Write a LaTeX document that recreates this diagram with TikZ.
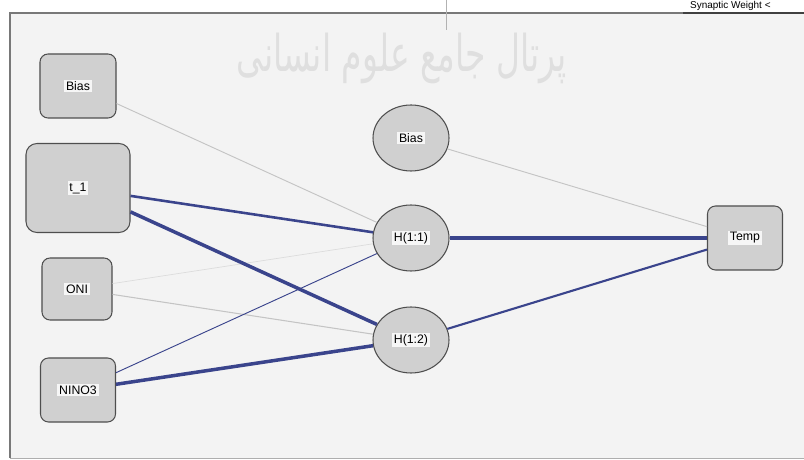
\documentclass[tikz,border=0pt]{standalone}
\usepackage{fontspec}
\setmainfont{Liberation Sans}
\newfontfamily\arabicfont[Script=Arabic]{DejaVu Sans}
\TeXXeTstate=1
\usetikzlibrary{shapes.geometric}

\definecolor{nodefill}{RGB}{208,208,208}
\definecolor{nodeline}{RGB}{78,78,78}
\definecolor{lblfill}{RGB}{246,246,246}
\definecolor{wblue}{RGB}{58,68,140}
\definecolor{wgray}{RGB}{196,196,196}
\definecolor{panel}{RGB}{243,243,243}
\definecolor{framegray}{RGB}{120,120,120}

\tikzset{
  inbox/.style={draw=nodeline,fill=nodefill,rounded corners=0.24cm,line width=0.9pt},
  hidnode/.style={ellipse,draw=nodeline,fill=nodefill,minimum width=2.28cm,minimum height=1.98cm,line width=0.9pt},
  txt/.style={fill=lblfill,inner sep=1.5pt,font=\fontsize{10.5}{11}\selectfont},
  wpos/.style={draw=wblue,line width=#1},
  wneg/.style={draw=wgray,line width=#1}
}

\begin{document}
\begin{tikzpicture}[x=0.03cm,y=-0.03cm]
\useasboundingbox (0,0) rectangle (804,460);
\clip (0,0) rectangle (804,460);

% panel and frame
\fill[panel] (10,13) rectangle (810,458);
\draw[framegray,line width=1.5pt] (10,458) -- (10,13) -- (810,13);
\draw[framegray!60,line width=0.6pt] (10,458) -- (810,458);
\draw[black!75,line width=1.5pt] (683,13) -- (810,13);
\draw[gray!60,line width=0.4pt] (446,0) -- (446,30);
\node[anchor=base west,inner sep=0pt,font=\fontsize{8.5}{9}\selectfont] (legend) at (690,9) {Synaptic Weight <};

\node[text=gray!25,xscale=0.88,yscale=1.35,font=\arabicfont\fontsize{32}{32}\selectfont] (mark) at (402,58) {\beginR پرتال جامع علوم انسانی\endR};

% input layer
\node[inbox,minimum width=2.28cm,minimum height=1.92cm,label={[txt]center:Bias}] (bias1) at (78,86) {};
\node[inbox,rounded corners=0.33cm,minimum width=3.12cm,minimum height=2.67cm,label={[txt]center:t\_1}] (t1) at (78,188) {};
\node[inbox,minimum width=2.1cm,minimum height=1.86cm,label={[txt]center:ONI}] (oni) at (77,289) {};
\node[inbox,minimum width=2.25cm,minimum height=1.92cm,label={[txt]center:NINO3}] (nino3) at (78,390) {};

% hidden layer
\node[hidnode,label={[txt]center:Bias}] (bias2) at (411,138) {};
\node[hidnode,label={[txt]center:H(1:1)}] (h11) at (411,238) {};
\node[hidnode,label={[txt]center:H(1:2)}] (h12) at (411,340) {};

% output
\node[inbox,minimum width=2.25cm,minimum height=1.92cm,label={[txt]center:Temp}] (temp) at (745,238) {};

% synaptic weights
\draw[wneg=0.8pt] (bias1) -- (h11);
\draw[wneg=0.6pt,draw=wgray!60] (oni) -- (h11);
\draw[wneg=0.9pt] (oni) -- (h12);
\draw[wpos=2.2pt] (t1) -- (h11);
\draw[wpos=3pt] (t1) -- (h12);
\draw[wpos=0.8pt] (nino3) -- (h11);
\draw[wpos=3pt] (nino3) -- (h12);

\draw[wneg=0.8pt] (bias2) -- (temp);
\draw[wpos=2.6pt] (h11) -- (temp);
\draw[wpos=1.8pt] (h12) -- (temp);

\end{tikzpicture}
\end{document}
